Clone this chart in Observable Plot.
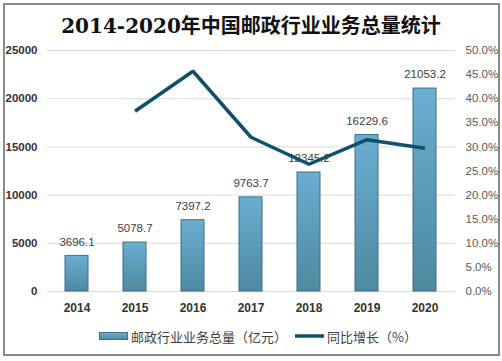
<!DOCTYPE html>
<html>
<head>
<meta charset="utf-8">
<script src="https://cdn.jsdelivr.net/npm/d3@7"></script>
<script src="https://cdn.jsdelivr.net/npm/@observablehq/plot@0.6"></script>
<style>
  html, body { margin: 0; padding: 0; background: #fff; }
  #wrap { position: relative; width: 502px; height: 361px; overflow: hidden; font-family: "Liberation Sans", "Noto Sans CJK SC", sans-serif; }
  #frame { position: absolute; left: 3px; top: 3px; width: 493px; height: 349px; border: 2px solid #8a8a8a; }
  #title { position: absolute; left: 0; top: 14px; width: 502px; text-align: center; font-family: "DejaVu Serif", "Noto Sans CJK SC", serif; font-weight: bold; font-size: 20px; color: #111; line-height: 24px; }
  #chart { position: absolute; left: 0; top: 40px; }
  #legend { position: absolute; left: 0; top: 326px; width: 502px; height: 20px; font-family: "Noto Sans CJK SC", sans-serif; font-size: 13px; color: #404040; }
  .li { position: absolute; top: 0; display: flex; align-items: center; height: 20px; }
  .li svg { margin-right: 3px; }
</style>
</head>
<body>
<div id="wrap">
  <div id="frame"></div>
  <div id="title">2014-2020年中国邮政行业业务总量统计</div>
  <div id="chart"></div>
  <div id="legend">
    <div class="li" style="left:99px"><svg width="29" height="8"><defs><linearGradient id="lg1" x1="0" y1="0" x2="0" y2="1"><stop offset="0" stop-color="#6aaed1"/><stop offset="1" stop-color="#4e8aa0"/></linearGradient></defs><rect x="0.5" y="0.5" width="28" height="7" fill="url(#lg1)" stroke="#3d6f87"/></svg><span>邮政行业业务总量（亿元）</span></div>
    <div class="li" style="left:295px"><svg width="29" height="8"><line x1="0" y1="4" x2="29" y2="4" stroke="#0e5069" stroke-width="3.5"/></svg><span>同比增长（%）</span></div>
  </div>
</div>
<script>
const years = ["2014", "2015", "2016", "2017", "2018", "2019", "2020"];
const volume = [3696.1, 5078.7, 7397.2, 9763.7, 12345.2, 16229.6, 21053.2];
const growthYears = ["2015", "2016", "2017", "2018", "2019", "2020"];
const growth = [37.4, 45.7, 32.0, 26.4, 31.5, 29.7];
const leftTicks = [0, 5000, 10000, 15000, 20000, 25000];
const rightTicksPct = [0, 5, 10, 15, 20, 25, 30, 35, 40, 45, 50];
const pctToLeft = 25000 / 50;

const bars = years.map((y, i) => ({year: y, value: volume[i]}));
const line = growthYears.map((y, i) => ({year: y, pct: growth[i], scaled: growth[i] * pctToLeft}));

const plot = Plot.plot({
  width: 502,
  height: 281,
  marginTop: 10,
  marginBottom: 30,
  marginLeft: 47,
  marginRight: 47,
  style: {fontFamily: "Liberation Sans, sans-serif", background: "transparent", overflow: "visible"},
  x: {type: "band", domain: years, paddingInner: 0.6, paddingOuter: 0.3, label: null},
  y: {domain: [0, 25000], label: null},
  marks: [
    Plot.gridY(leftTicks, {stroke: "#d9d9d9", strokeOpacity: 1, strokeWidth: 1}),
    Plot.ruleY([0], {stroke: "#d9d9d9", strokeWidth: 1}),
    Plot.barY(bars, {x: "year", y: "value", fill: "url(#barGrad)", stroke: "#3d6f87", strokeWidth: 1}),
    Plot.text(bars, {x: "year", y: "value", text: d => d.value.toFixed(1), dy: -14, fontSize: 11.5, fill: "#404040"}),
    Plot.lineY(line, {x: "year", y: "scaled", stroke: "#0e5069", strokeWidth: 3.5, strokeLinejoin: "miter", strokeLinecap: "butt"}),
    Plot.axisY(leftTicks, {anchor: "left", tickSize: 0, tickPadding: 10, fontWeight: "bold", fontSize: 11.5, fill: "#333", label: null, tickFormat: d => String(d)}),
    Plot.axisY(rightTicksPct.map(p => p * pctToLeft), {anchor: "right", tickSize: 0, tickPadding: 10, fontSize: 11.5, fill: "#595959", label: null, textAnchor: "start", tickFormat: d => (d / pctToLeft).toFixed(1) + "%"}),
    Plot.axisX({tickSize: 0, tickPadding: 12, fontWeight: "bold", fontSize: 12, fill: "#333", label: null})
  ]
});

const ns = "http://www.w3.org/2000/svg";
const defs = document.createElementNS(ns, "defs");
defs.innerHTML = '<linearGradient id="barGrad" x1="0" y1="0" x2="0" y2="1"><stop offset="0" stop-color="#6aaed1"/><stop offset="1" stop-color="#4e8aa0"/></linearGradient>';
plot.insertBefore(defs, plot.firstChild);
document.getElementById("chart").appendChild(plot);
</script>
</body>
</html>
